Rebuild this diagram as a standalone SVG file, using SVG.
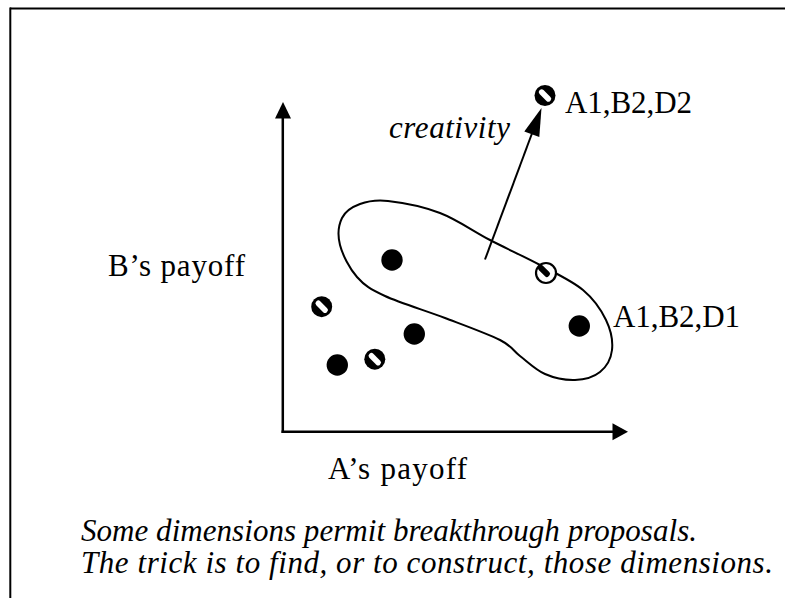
<svg xmlns="http://www.w3.org/2000/svg" width="785" height="598" viewBox="0 0 785 598">
<style>
.lbl{font-family:"Liberation Serif",Tinos,"Times New Roman","DejaVu Serif","Noto Serif",serif;font-size:31px;fill:#000}
.it{font-style:italic}
.ln{stroke:#000;fill:none}
</style>
<defs>
<g id="hatch">
<circle r="10.5" fill="#000"/>
<rect x="-7.5" y="-2.8" width="15" height="5.6" rx="2.6" fill="#fff" transform="rotate(45)"/>
</g>
<g id="solid"><circle r="10.7" fill="#000"/></g>
</defs>
<rect width="785" height="598" fill="#fff"/>
<g id="frame">
<line class="ln" x1="10" y1="8.5" x2="785" y2="8.5" stroke-width="2"/>
<line class="ln" x1="10.3" y1="7.5" x2="10.3" y2="598" stroke-width="2"/>
</g>
<g id="axes">
<line class="ln" x1="282.8" y1="433" x2="282.8" y2="116" stroke-width="2.5"/>
<polygon points="283,102 275,118.5 291,118.5" fill="#000"/>
<line class="ln" x1="281.5" y1="431.8" x2="615" y2="431.8" stroke-width="2.5"/>
<polygon points="628,431.8 612.5,423.3 612.5,440.3" fill="#000"/>
</g>
<g id="region">
<path class="ln" stroke-width="2" d="M388,201 C401.3,202.5 423,206.5 440,213 C457,219.5 473.3,231.3 490,240 C506.7,248.7 524.5,256.7 540,265 C555.5,273.3 572,280.8 583,290 C594,299.2 601.2,310 606,320 C610.8,330 613,341.3 612,350 C611,358.7 606.2,367 600,372 C593.8,377 584.2,379.7 575,380 C565.8,380.3 554.2,378 545,374 C535.8,370 527.5,361.7 520,356 C512.5,350.3 512.5,346.3 500,340 C487.5,333.7 464.2,325.3 445,318 C425.8,310.7 399.7,302.8 385,296 C370.3,289.2 364.5,285.5 357,277 C349.5,268.5 342.5,254.8 340,245 C337.5,235.2 338.7,224.8 342,218 C345.3,211.2 352.3,206.8 360,204 C367.7,201.2 374.7,199.5 388,201 Z"/>
</g>
<g id="connectors">
<line class="ln" x1="485" y1="259.5" x2="534" y2="128" stroke-width="2"/>
<polygon points="541.5,108 539.3,137.1 524.3,131.5" fill="#000"/>
</g>
<g id="dot-a1b2d2"><use href="#hatch" x="545" y="95.5"/></g>
<g id="dot-edge">
<circle cx="546" cy="273" r="10" fill="#fff" stroke="#000" stroke-width="2.2"/>
<rect x="-7" y="-3" width="14" height="6" rx="2.5" fill="#000" transform="translate(544,271) rotate(45)"/>
</g>
<g id="dot-1"><use href="#solid" x="392" y="260"/></g>
<g id="dot-2"><use href="#hatch" x="321.7" y="306.7"/></g>
<g id="dot-3"><use href="#solid" x="414.3" y="334"/></g>
<g id="dot-4"><use href="#solid" x="337.3" y="365"/></g>
<g id="dot-5"><use href="#hatch" x="374.8" y="359.2"/></g>
<g id="dot-a1b2d1"><use href="#solid" x="579.3" y="326"/></g>
<g id="labels">
<text class="lbl" x="565" y="113" textLength="127">A1,B2,D2</text>
<text class="lbl" x="613" y="327" textLength="127">A1,B2,D1</text>
<text class="lbl it" x="389" y="138" textLength="121">creativity</text>
<text class="lbl" x="108" y="276" textLength="137">B’s payoff</text>
<text class="lbl" x="328" y="479" textLength="139">A’s payoff</text>
<text class="lbl it" x="81" y="541" textLength="616">Some dimensions permit breakthrough proposals.</text>
<text class="lbl it" x="81" y="573" textLength="692">The trick is to find, or to construct, those dimensions.</text>
</g>
</svg>
